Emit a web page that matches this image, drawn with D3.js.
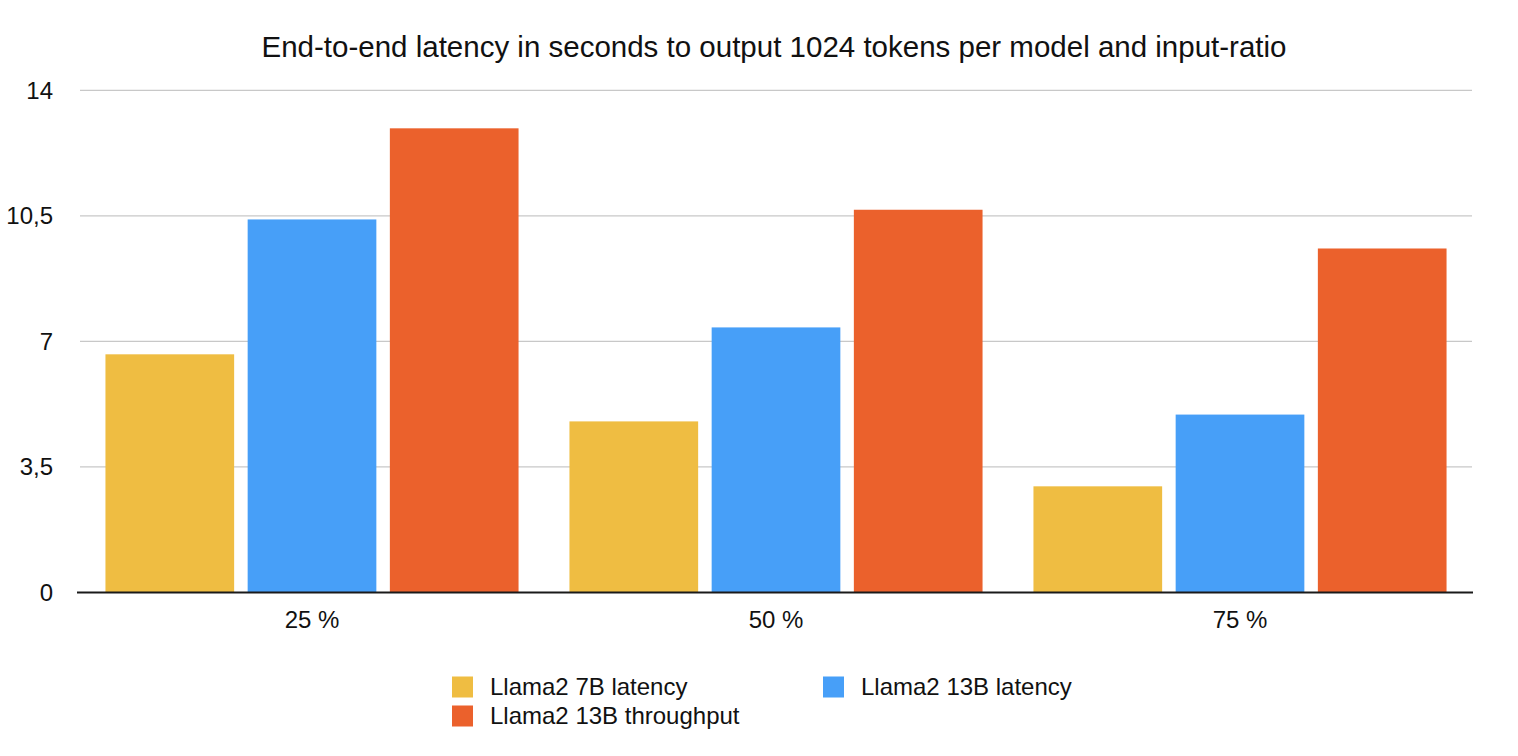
<!DOCTYPE html>
<html>
<head>
<meta charset="utf-8">
<script src="https://cdn.jsdelivr.net/npm/d3@7"></script>
<style>
  html, body { margin: 0; padding: 0; background: #ffffff; }
  svg { display: block; }
  text { font-family: "Liberation Sans", Arial, Helvetica, sans-serif; fill: #111; }
</style>
</head>
<body>
<svg id="chart" width="1518" height="756"></svg>
<script>
// ---- data ----
const categories = ["25 %", "50 %", "75 %"];
const seriesNames = ["Llama2 7B latency", "Llama2 13B latency", "Llama2 13B throughput"];
const llama7bLatency = [6.64, 4.77, 2.96];
const llama13bLatency = [10.40, 7.39, 4.96];
const llama13bThroughput = [12.94, 10.67, 9.59];
const yTicks = [0, 3.5, 7, 10.5, 14];
const titleText = "End-to-end latency in seconds to output 1024 tokens per model and input-ratio";

// ---- styles ----
const colors = ["#EFBD42", "#479FF8", "#EB612C"];
const seriesValues = [llama7bLatency, llama13bLatency, llama13bThroughput];

const svg = d3.select("#chart");
const plot = { left: 80, right: 1472, top: 90.3, bottom: 592.5 };

const x0 = d3.scaleBand().domain(categories).range([plot.left, plot.right]).padding(0);
const x1 = d3.scaleBand().domain(d3.range(seriesNames.length))
  .range([0, x0.bandwidth()]).paddingInner(0.095).paddingOuter(0.179);
const y = d3.scaleLinear().domain([0, 14]).range([plot.bottom, plot.top]);

// title
svg.append("text")
  .attr("x", 774).attr("y", 57)
  .attr("text-anchor", "middle")
  .style("font-size", "29.5px")
  .text(titleText);

// gridlines
svg.append("g")
  .selectAll("line")
  .data(yTicks.filter(d => d > 0))
  .join("line")
  .attr("x1", plot.left).attr("x2", plot.right)
  .attr("y1", d => y(d)).attr("y2", d => y(d))
  .attr("stroke", "#c8c8c8").attr("stroke-width", 1.3);

// y tick labels
const fmt = d => String(d).replace(".", ",");
svg.append("g")
  .selectAll("text")
  .data(yTicks)
  .join("text")
  .attr("x", 53).attr("y", d => y(d))
  .attr("dy", "0.35em")
  .attr("text-anchor", "end")
  .style("font-size", "24px")
  .text(fmt);

// bars
const groups = svg.append("g")
  .selectAll("g")
  .data(categories)
  .join("g")
  .attr("transform", d => `translate(${x0(d)},0)`);

groups.selectAll("rect")
  .data((c, ci) => seriesValues.map((vals, si) => ({ si, v: vals[ci] })))
  .join("rect")
  .attr("x", d => x1(d.si))
  .attr("width", x1.bandwidth())
  .attr("y", d => y(d.v))
  .attr("height", d => y(0) - y(d.v))
  .attr("fill", d => colors[d.si]);

// baseline
svg.append("line")
  .attr("x1", plot.left - 3).attr("x2", plot.right + 1)
  .attr("y1", y(0)).attr("y2", y(0))
  .attr("stroke", "#1a1a1a").attr("stroke-width", 2);

// x labels
svg.append("g")
  .selectAll("text")
  .data(categories)
  .join("text")
  .attr("x", d => x0(d) + x0.bandwidth() / 2)
  .attr("y", 628)
  .attr("text-anchor", "middle")
  .style("font-size", "24px")
  .text(d => d);

// legend
const legendPos = [
  { sx: 452, cy: 687 },
  { sx: 823, cy: 687 },
  { sx: 452, cy: 716 }
];
const legend = svg.append("g")
  .selectAll("g")
  .data(seriesNames)
  .join("g");
legend.append("rect")
  .attr("x", (d, i) => legendPos[i].sx)
  .attr("y", (d, i) => legendPos[i].cy - 10.5)
  .attr("width", 21).attr("height", 21)
  .attr("fill", (d, i) => colors[i]);
legend.append("text")
  .attr("x", (d, i) => legendPos[i].sx + 38)
  .attr("y", (d, i) => legendPos[i].cy)
  .attr("dy", "0.35em")
  .style("font-size", "24px")
  .text(d => d);
</script>
</body>
</html>
